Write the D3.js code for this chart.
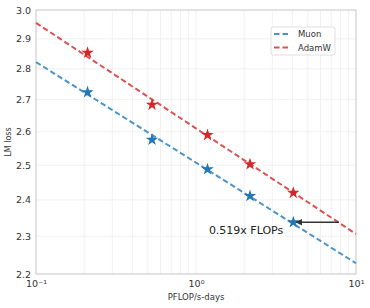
<!DOCTYPE html>
<html>
<head>
<meta charset="utf-8">
<script src="https://cdn.jsdelivr.net/npm/d3@7"></script>
<style>
  body { margin: 0; background: #fff; }
  text { font-family: "DejaVu Sans", sans-serif; }
</style>
</head>
<body>
<svg id="chart" width="370" height="308"></svg>
<script>
// measured points (PFLOP/s-days, LM loss)
var flops = [0.210, 0.531, 1.18, 2.175, 4.055];
var muonLoss = [2.724, 2.576, 2.488, 2.411, 2.338];
var adamwLoss = [2.853, 2.684, 2.590, 2.503, 2.420];

// fitted power-law lines, given by their ends
var fitFlops = [0.1, 10];
var muonFit = [2.822, 2.228];
var adamwFit = [2.955, 2.306];

var yTicks = [2.2, 2.3, 2.4, 2.5, 2.6, 2.7, 2.8, 2.9, 3.0];
var xTicks = [0.1, 1, 10];
var xTickLabels = ["10\u207B\u00B9", "10\u2070", "10\u00B9"];

var series = [
    { name: "Muon", color: "#1f77b4", lineColor: "#4c94c8", loss: muonLoss, fit: muonFit },
    { name: "AdamW", color: "#d62728", lineColor: "#dc5254", loss: adamwLoss, fit: adamwFit }
];

var svg = d3.select("#chart"),
    margin = { top: 10, right: 14, bottom: 34, left: 36 },
    width = +svg.attr("width") - margin.left - margin.right,
    height = +svg.attr("height") - margin.top - margin.bottom;

var x = d3.scaleLog().domain([0.1, 10]).range([0, width]);
var y = d3.scaleLog().domain([2.2, 3.0]).range([height, 0]);

var g = svg.append("g").attr("transform", "translate(" + margin.left + "," + margin.top + ")");

// grid
var minor = [];
[0.1, 1].forEach(function(d) {
    for (var k = 1; k <= 9; k++) minor.push(d * k);
});
minor.push(10);

g.append("g").selectAll("line")
    .data(minor)
    .enter().append("line")
    .attr("x1", function(d) { return x(d); })
    .attr("x2", function(d) { return x(d); })
    .attr("y1", 0).attr("y2", height)
    .attr("stroke", "#ededed").attr("stroke-width", 0.8);

g.append("g").selectAll("line")
    .data(yTicks)
    .enter().append("line")
    .attr("x1", 0).attr("x2", width)
    .attr("y1", function(d) { return y(d); })
    .attr("y2", function(d) { return y(d); })
    .attr("stroke", "#ededed").attr("stroke-width", 0.8);

g.append("rect")
    .attr("width", width).attr("height", height)
    .attr("fill", "none").attr("stroke", "#cccccc").attr("stroke-width", 1);

// axes
var xAxis = g.append("g")
    .attr("transform", "translate(0," + height + ")")
    .call(d3.axisBottom(x).tickValues(xTicks).tickSize(0).tickPadding(6)
        .tickFormat(function(d, i) { return xTickLabels[i]; }));
var yAxis = g.append("g")
    .call(d3.axisLeft(y).tickValues(yTicks).tickSize(0).tickPadding(5)
        .tickFormat(d3.format(".1f")));

[xAxis, yAxis].forEach(function(a) {
    a.select(".domain").remove();
    a.selectAll("text").attr("fill", "#333").style("font-size", "9.5px")
        .style("font-family", "DejaVu Sans, sans-serif");
});

svg.append("text")
    .attr("x", margin.left + width / 2).attr("y", 300)
    .attr("text-anchor", "middle").attr("fill", "#333")
    .style("font-size", "8.5px")
    .text("PFLOP/s-days");

svg.append("text")
    .attr("transform", "translate(11," + (margin.top + height / 2) + ") rotate(-90)")
    .attr("text-anchor", "middle").attr("fill", "#333")
    .style("font-size", "8px")
    .text("LM loss");

// fit lines
var line = d3.line()
    .x(function(d) { return x(d[0]); })
    .y(function(d) { return y(d[1]); });

series.forEach(function(s) {
    g.append("path")
        .datum(d3.zip(fitFlops, s.fit))
        .attr("d", line)
        .attr("fill", "none")
        .attr("stroke", s.lineColor)
        .attr("stroke-width", 2)
        .attr("stroke-dasharray", "5.5,3");
});

// stars
var star = d3.symbol().type(d3.symbolStar).size(48);
series.forEach(function(s) {
    g.append("g").selectAll("path")
        .data(d3.zip(flops, s.loss))
        .enter().append("path")
        .attr("d", star)
        .attr("transform", function(d) { return "translate(" + x(d[0]) + "," + y(d[1]) + ")"; })
        .attr("fill", s.color);
});

// annotation arrow: AdamW reaches Muon's last loss at flops / 0.519
var ratio = 0.519;
var lastF = flops[flops.length - 1], lastL = muonLoss[muonLoss.length - 1];
svg.append("defs").append("marker")
    .attr("id", "head")
    .attr("viewBox", "0 0 10 10")
    .attr("refX", 9).attr("refY", 5)
    .attr("markerWidth", 4.5).attr("markerHeight", 4.5)
    .attr("orient", "auto")
    .append("path").attr("d", "M0,0L10,5L0,10z").attr("fill", "#333");

g.append("line")
    .attr("x1", x(lastF / ratio)).attr("y1", y(lastL))
    .attr("x2", x(lastF) + 3).attr("y2", y(lastL))
    .attr("stroke", "#333").attr("stroke-width", 1.5)
    .attr("marker-end", "url(#head)");

g.append("text")
    .attr("x", x(lastF) - 10).attr("y", y(lastL) + 12)
    .attr("text-anchor", "end").attr("fill", "#222")
    .style("font-size", "11px")
    .text(ratio + "x FLOPs");

// legend
var legend = g.append("g").attr("transform", "translate(235,17)");
legend.append("rect")
    .attr("width", 64).attr("height", 28).attr("rx", 2)
    .attr("fill", "#fff").attr("stroke", "#d8d8d8").attr("stroke-width", 0.8);
series.forEach(function(s, i) {
    var row = legend.append("g").attr("transform", "translate(0," + (7 + i * 13.5) + ")");
    row.append("line")
        .attr("x1", 3).attr("x2", 20)
        .attr("stroke", s.lineColor).attr("stroke-width", 2)
        .attr("stroke-dasharray", "5.5,3");
    row.append("text")
        .attr("x", 27).attr("y", 3)
        .attr("fill", "#333").style("font-size", "8.5px")
        .text(s.name);
});
</script>
</body>
</html>
